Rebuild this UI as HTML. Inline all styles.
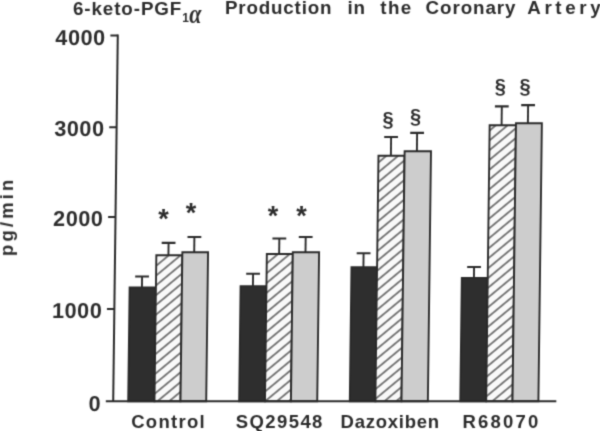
<!DOCTYPE html>
<html><head><meta charset="utf-8"><style>
html,body{margin:0;padding:0;background:#fff;width:600px;height:431px;overflow:hidden}
svg{display:block}
text{font-family:"Liberation Sans",Arial,sans-serif;font-weight:bold;fill:#2c2c2c}
.yl{font-size:21.6px;letter-spacing:0.6px}
.ti{font-size:18.8px}
.sub{font-size:12px}
.alpha{font-family:"Liberation Serif",serif;font-style:italic;font-size:22px;font-weight:bold}
.xl text{font-size:18.5px}
.ylab{font-size:18.5px}
.mk text{font-size:27px;text-anchor:middle}
.sec text{font-size:20px;text-anchor:middle}
</style></head><body>
<svg width="600" height="431" viewBox="0 0 600 431">
<defs>
<filter id="bl" x="0" y="0" width="1" height="1" color-interpolation-filters="sRGB"><feConvolveMatrix order="3" kernelMatrix="0.02768 0.11101 0.02768 0.11101 0.44521 0.11101 0.02768 0.11101 0.02768" edgeMode="duplicate"/></filter>
<pattern id="h0" patternUnits="userSpaceOnUse" width="20" height="7.546" patternTransform="rotate(-40.0) translate(0,4.852)"><rect width="20" height="7.546" fill="#f9f9f9"/><rect y="3.073" width="20" height="1.4" fill="#484848"/></pattern>
<pattern id="h1" patternUnits="userSpaceOnUse" width="20" height="7.546" patternTransform="rotate(-40.0) translate(0,6.165)"><rect width="20" height="7.546" fill="#f9f9f9"/><rect y="3.073" width="20" height="1.4" fill="#484848"/></pattern>
<pattern id="h2" patternUnits="userSpaceOnUse" width="20" height="7.546" patternTransform="rotate(-40.0) translate(0,7.367)"><rect width="20" height="7.546" fill="#f9f9f9"/><rect y="3.073" width="20" height="1.4" fill="#484848"/></pattern>
<pattern id="h3" patternUnits="userSpaceOnUse" width="20" height="7.546" patternTransform="rotate(-40.0) translate(0,1.281)"><rect width="20" height="7.546" fill="#f9f9f9"/><rect y="3.073" width="20" height="1.4" fill="#484848"/></pattern>
</defs>
<g filter="url(#bl)">
<rect width="600" height="431" fill="#ffffff"/>
<g transform="matrix(1 0 -0.0125 1 5.0163 0)">
<rect x="128.20" y="287.50" width="26.30" height="113.80" fill="#2e2e2e" stroke="#2a2a2a" stroke-width="1.9"/>
<rect x="154.50" y="255.30" width="26.00" height="146.00" fill="url(#h0)" stroke="#2a2a2a" stroke-width="1.9"/>
<rect x="180.50" y="252.20" width="25.70" height="149.10" fill="#cdcdcd" stroke="#2a2a2a" stroke-width="1.9"/>
<line x1="140.51" y1="276.50" x2="140.51" y2="287.50" stroke="#2a2a2a" stroke-width="1.9"/>
<line x1="133.61" y1="276.50" x2="147.41" y2="276.50" stroke="#2a2a2a" stroke-width="2.1"/>
<line x1="166.60" y1="242.90" x2="166.60" y2="255.30" stroke="#2a2a2a" stroke-width="1.9"/>
<line x1="159.70" y1="242.90" x2="173.50" y2="242.90" stroke="#2a2a2a" stroke-width="2.1"/>
<line x1="192.34" y1="237.00" x2="192.34" y2="252.20" stroke="#2a2a2a" stroke-width="1.9"/>
<line x1="185.44" y1="237.00" x2="199.24" y2="237.00" stroke="#2a2a2a" stroke-width="2.1"/>
<rect x="239.15" y="286.10" width="25.85" height="115.20" fill="#2e2e2e" stroke="#2a2a2a" stroke-width="1.9"/>
<rect x="265.00" y="254.00" width="25.95" height="147.30" fill="url(#h1)" stroke="#2a2a2a" stroke-width="1.9"/>
<rect x="290.95" y="252.30" width="26.28" height="149.00" fill="#cdcdcd" stroke="#2a2a2a" stroke-width="1.9"/>
<line x1="251.48" y1="273.70" x2="251.48" y2="286.10" stroke="#2a2a2a" stroke-width="1.9"/>
<line x1="244.58" y1="273.70" x2="258.38" y2="273.70" stroke="#2a2a2a" stroke-width="2.1"/>
<line x1="277.31" y1="238.50" x2="277.31" y2="254.00" stroke="#2a2a2a" stroke-width="1.9"/>
<line x1="270.41" y1="238.50" x2="284.21" y2="238.50" stroke="#2a2a2a" stroke-width="2.1"/>
<line x1="303.64" y1="237.00" x2="303.64" y2="252.30" stroke="#2a2a2a" stroke-width="1.9"/>
<line x1="296.74" y1="237.00" x2="310.54" y2="237.00" stroke="#2a2a2a" stroke-width="2.1"/>
<rect x="349.80" y="267.20" width="25.60" height="134.10" fill="#2e2e2e" stroke="#2a2a2a" stroke-width="1.9"/>
<rect x="375.40" y="155.70" width="26.10" height="245.60" fill="url(#h2)" stroke="#2a2a2a" stroke-width="1.9"/>
<rect x="401.50" y="151.20" width="26.37" height="250.10" fill="#cdcdcd" stroke="#2a2a2a" stroke-width="1.9"/>
<line x1="361.74" y1="253.30" x2="361.74" y2="267.20" stroke="#2a2a2a" stroke-width="1.9"/>
<line x1="354.84" y1="253.30" x2="368.64" y2="253.30" stroke="#2a2a2a" stroke-width="2.1"/>
<line x1="387.81" y1="137.00" x2="387.81" y2="155.70" stroke="#2a2a2a" stroke-width="1.9"/>
<line x1="380.91" y1="137.00" x2="394.71" y2="137.00" stroke="#2a2a2a" stroke-width="2.1"/>
<line x1="413.76" y1="132.90" x2="413.76" y2="151.20" stroke="#2a2a2a" stroke-width="1.9"/>
<line x1="406.86" y1="132.90" x2="420.66" y2="132.90" stroke="#2a2a2a" stroke-width="2.1"/>
<rect x="460.28" y="277.90" width="25.92" height="123.40" fill="#2e2e2e" stroke="#2a2a2a" stroke-width="1.9"/>
<rect x="486.20" y="125.30" width="26.30" height="276.00" fill="url(#h3)" stroke="#2a2a2a" stroke-width="1.9"/>
<rect x="512.50" y="123.30" width="25.90" height="278.00" fill="#cdcdcd" stroke="#2a2a2a" stroke-width="1.9"/>
<line x1="472.39" y1="267.00" x2="472.39" y2="277.90" stroke="#2a2a2a" stroke-width="1.9"/>
<line x1="465.49" y1="267.00" x2="479.29" y2="267.00" stroke="#2a2a2a" stroke-width="2.1"/>
<line x1="498.13" y1="106.40" x2="498.13" y2="125.30" stroke="#2a2a2a" stroke-width="1.9"/>
<line x1="491.23" y1="106.40" x2="505.03" y2="106.40" stroke="#2a2a2a" stroke-width="2.1"/>
<line x1="524.41" y1="105.10" x2="524.41" y2="123.30" stroke="#2a2a2a" stroke-width="1.9"/>
<line x1="517.51" y1="105.10" x2="531.31" y2="105.10" stroke="#2a2a2a" stroke-width="2.1"/>
<line x1="113.2" y1="34.6" x2="113.2" y2="401.3" stroke="#2a2a2a" stroke-width="2"/>
<line x1="105.8" y1="35.6" x2="113.2" y2="35.6" stroke="#2a2a2a" stroke-width="2"/>
<line x1="105.8" y1="127.2" x2="113.2" y2="127.2" stroke="#2a2a2a" stroke-width="2"/>
<line x1="105.8" y1="217.0" x2="113.2" y2="217.0" stroke="#2a2a2a" stroke-width="2"/>
<line x1="105.8" y1="309.0" x2="113.2" y2="309.0" stroke="#2a2a2a" stroke-width="2"/>
<line x1="105.8" y1="401.3" x2="556.3" y2="401.3" stroke="#2a2a2a" stroke-width="2"/>
<text x="101.3" y="44.9" text-anchor="end" class="yl">4000</text>
<text x="101.3" y="136.5" text-anchor="end" class="yl">3000</text>
<text x="101.3" y="226.3" text-anchor="end" class="yl">2000</text>
<text x="101.3" y="318.3" text-anchor="end" class="yl">1000</text>
<text x="101.3" y="410.6" text-anchor="end" class="yl">0</text>
</g>
<g class="t">
<text x="73" y="14.5" class="ti" textLength="108.3" lengthAdjust="spacing">6-keto-PGF</text>
<text x="182.3" y="22" class="sub">1</text>
<text transform="translate(189.3,22.5) scale(1,1.25)" class="alpha">α</text>
<text x="225" y="14" class="ti" textLength="106.5" lengthAdjust="spacing">Production</text>
<text x="347.5" y="13.8" class="ti" textLength="17.5" lengthAdjust="spacing">in</text>
<text x="380.3" y="13.8" class="ti" textLength="31" lengthAdjust="spacing">the</text>
<text x="425.5" y="13.6" class="ti" textLength="90" lengthAdjust="spacing">Coronary</text>
<text x="527.2" y="13.5" class="ti" textLength="73.5" lengthAdjust="spacing">Artery</text>
</g>
<g class="xl">
<text x="131.2" y="428.2" textLength="73.5" lengthAdjust="spacing">Control</text>
<text x="235.8" y="428.2" textLength="86.6" lengthAdjust="spacing">SQ29548</text>
<text x="340.5" y="428.2" textLength="98.6" lengthAdjust="spacing">Dazoxiben</text>
<text x="462.5" y="428.2" textLength="75.8" lengthAdjust="spacing">R68070</text>
</g>
<text transform="translate(13,256.1) rotate(-90)" class="ylab" textLength="76.3" lengthAdjust="spacing">pg/min</text>
<g class="mk">
<text x="163.5" y="227.6">*</text>
<text x="191" y="221.6">*</text>
<text x="273" y="224.6">*</text>
<text x="301.6" y="224.6">*</text>
</g>
<g class="sec">
<text x="388" y="125.8">§</text>
<text x="415.5" y="123">§</text>
<text x="500.2" y="93">§</text>
<text x="525" y="93">§</text>
</g>
</g>
</svg>
</body></html>
